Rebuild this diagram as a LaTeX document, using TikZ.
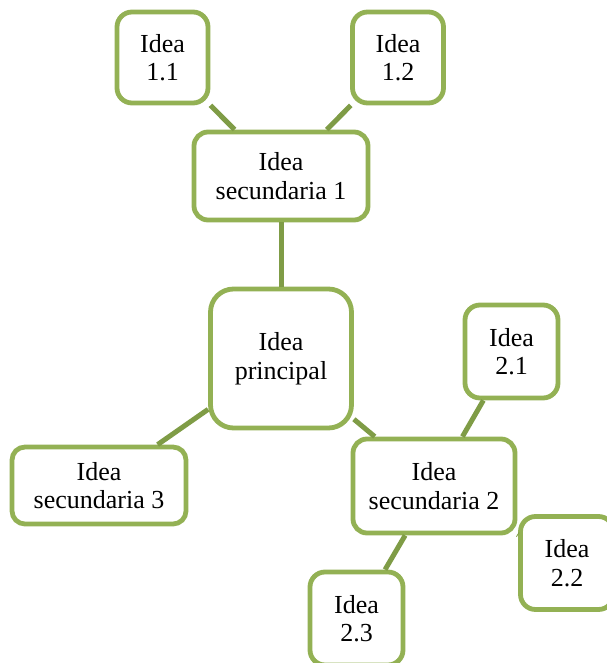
\documentclass[tikz,border=0pt]{standalone}
\usepackage{xcolor}
\usepackage{fontspec}
\setmainfont{Liberation Serif}
\usepackage{tikz}
\usetikzlibrary{positioning}
\definecolor{verde}{HTML}{93B154}
\definecolor{verdeosc}{HTML}{7F9C46}
\tikzstyle{caja}=[
        rectangle,
        draw=verde,
        line width=4.8pt,
        fill=white,
        inner sep=0pt,
        align=center,
        font=\fontsize{26}{28.5}\selectfont
]
\tikzstyle{idea}=[caja,rounded corners=15pt,minimum width=93pt,minimum height=93pt]
\tikzstyle{secundaria}=[caja,rounded corners=14pt,minimum height=88pt]
\tikzstyle{principal}=[caja,rounded corners=23pt,minimum width=141pt,minimum height=139pt]
\tikzstyle{rama}=[draw=verdeosc,line width=5pt]

\begin{document}
\begin{tikzpicture}[x=1pt,y=-1pt]
\useasboundingbox (0,0) rectangle (606,663);
\node[principal] (p) at (281,358.5) {Idea\\principal};
\node[secundaria,minimum width=174pt] (s1) at (281,176) {Idea\\secundaria 1};
\node[secundaria,minimum width=162pt,minimum height=94pt] (s2) at (434,486) {Idea\\secundaria 2};
\node[secundaria,minimum width=174pt,minimum height=77pt,rounded corners=13pt] (s3) at (99,485.5) {Idea\\secundaria 3};
\node[idea,minimum width=91pt,minimum height=91pt] (a) at (162.5,57.5) {Idea\\1.1};
\node[idea,minimum width=91pt,minimum height=91pt] (b) at (398,57.5) {Idea\\1.2};
\node[idea] (c) at (511.5,351.5) {Idea\\2.1};
\node[idea] (d) at (567,563) {Idea\\2.2};
\node[idea] (e) at (356.5,618.5) {Idea\\2.3};
%Drawing Edges
\draw[rama] (a) -- (s1);
\draw[rama] (b) -- (s1);
\draw[rama] (s1) -- (p);
\draw[rama] (p) -- (s3);
\draw[rama] (p) -- (s2);
\draw[rama] (s2) -- (c);
\draw[rama] (s2) -- (d);
\draw[rama] (s2) -- (e);
\end{tikzpicture}
\end{document}
